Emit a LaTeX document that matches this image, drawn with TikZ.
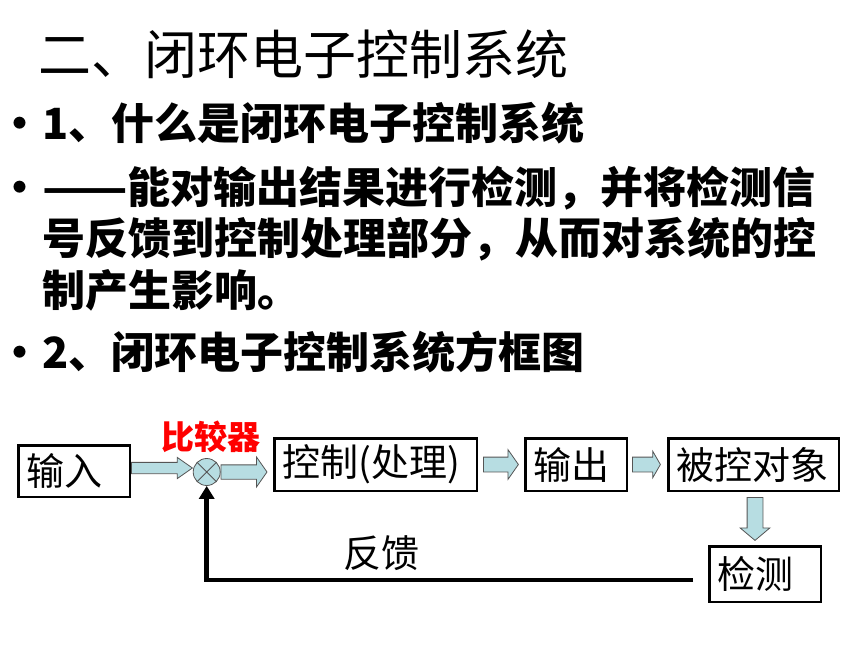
\documentclass[tikz,border=0pt]{standalone}
\usepackage{fontspec}
\setmainfont{Noto Sans CJK SC}
\usepackage{tikz}
\usetikzlibrary{shapes, arrows.meta, calc, positioning}
\definecolor{arrowblue}{RGB}{183,221,226}
\definecolor{rimgray}{RGB}{85,85,85}

\begin{document}
\begin{tikzpicture}[x=1pt, y=-1pt,
		line/.style={anchor=base west, inner sep=0pt, font=\fontsize{43}{52}\selectfont\bfseries},
		dot/.style={anchor=base, inner sep=0pt, font=\fontsize{43}{52}\selectfont\bfseries},
		blk/.style={draw, line width=2.5pt, inner xsep=8pt, inner ysep=0pt, minimum height=52.5pt, text width=#1, align=left, font=\fontsize{38}{44}\selectfont},
		fat/.style={single arrow, draw=rimgray, fill=arrowblue, line width=0.8pt, inner sep=0pt, anchor=tail, minimum height=#1},
		cmp/.style={circle, draw=rimgray, fill=arrowblue, line width=0.8pt, minimum size=27pt, inner sep=0pt},
		fb/.style={line width=4.5pt, -{Triangle[length=13pt, width=15pt]}}]
	\useasboundingbox (0,0) rectangle (860,645);
	
	% heading and bullet lines
	\node[anchor=base west, inner sep=0pt, font=\fontsize{53}{60}\selectfont] (title) at (38,74) {二、闭环电子控制系统};
	\node[dot] (b1) at (20,139.5) {•};
	\node[line] (t1) at (42,139.5) {1、什么是闭环电子控制系统};
	\node[dot] (b2) at (20,203.5) {•};
	\node[line] (t2) at (42,203.5) {\scalebox{1.16}[1]{——}能对输出结果进行检测，并将检测信};
	\node[line] (t3) at (42,254.5) {号反馈到控制处理部分，从而对系统的控};
	\node[line] (t4) at (42,306.5) {制产生影响。};
	\node[dot] (b5) at (20,368.5) {•};
	\node[line] (t5) at (42,368.5) {2、闭环电子控制系统方框图};
	
	% block diagram
	\node[blk=95.5pt, minimum height=51.5pt] (inp) at (74,471) {输入};
	\node[cmp] (cmp) at (206.7,472) {};
	\draw[rimgray, line width=0.8pt] (cmp.45) -- (cmp.225) (cmp.135) -- (cmp.315);
	\node[font=\fontsize{33}{40}\selectfont\bfseries, text=red, inner sep=0pt] (lbl) [above=5pt of cmp, xshift=4pt] {比较器};
	\node[blk=186.5pt] (ctl) at (375.5,464.5) {控制(处理)};
	\node[blk=85.5pt] (out) [right=46pt of ctl] {输出};
	\node[blk=154.5pt] (obj) [right=39pt of out] {被控对象};
	\node[blk=95.5pt, minimum height=55.5pt] (jc) [below=53pt of obj, xshift=11.5pt] {检测};
	
	\node[fat=61pt, inner ysep=5.25pt, single arrow head extend=5pt, single arrow tip angle=70] (a1) at ([yshift=3pt]inp.east) {};
	\node[fat=46pt, inner ysep=6.75pt, single arrow head extend=7.75pt, single arrow tip angle=110] (a2) at (cmp.east) {};
	\node[fat=35pt, inner ysep=7pt, single arrow head extend=7.5pt, single arrow tip angle=110] (a3) at ([xshift=5pt]ctl.east) {};
	\node[fat=28pt, inner ysep=7pt, single arrow head extend=6pt, single arrow tip angle=120] (a4) at ([xshift=4pt]out.east) {};
	\node[fat=43pt, inner ysep=7.5pt, single arrow head extend=7pt, single arrow tip angle=100, rotate=-90] (a5) at ([xshift=1.5pt, yshift=-5pt]obj.south) {};
	
	\draw[fb] ([xshift=-15pt, yshift=-6pt]jc.west) -| node[pos=0.32, above=7pt, font=\fontsize{38}{44}\selectfont, inner sep=0pt] (fblbl) {反馈} (cmp.south);
\end{tikzpicture}
\end{document}
